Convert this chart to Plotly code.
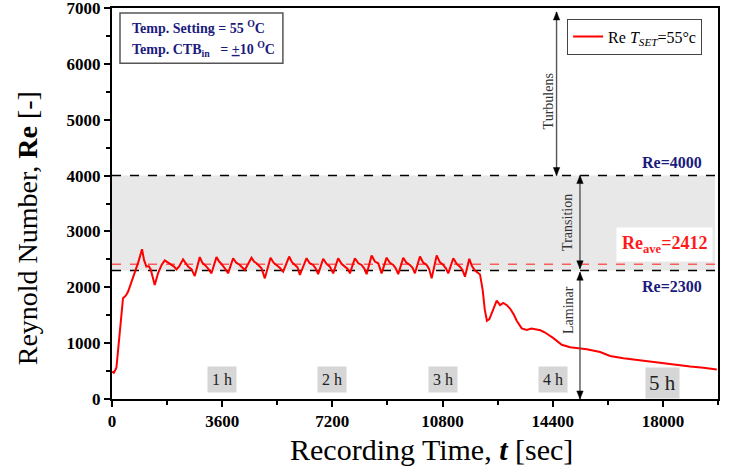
import plotly.graph_objects as go

# ---------------- data ----------------
time_s = [0, 60, 144, 250, 360, 450, 523, 640, 742, 860,
          981, 1050, 1125, 1200, 1265, 1330, 1396, 1504, 1620, 1723,
          1830, 1942, 2030, 2106, 2200, 2322, 2400, 2485, 2600, 2704,
          2868, 2950, 3031, 3150, 3250, 3414, 3500, 3577, 3700, 3793,
          3957, 4060, 4176, 4339, 4558, 4640, 4722, 4885, 4993, 5180,
          5280, 5376, 5480, 5592, 5788, 5880, 5974, 6060, 6138, 6357,
          6460, 6573, 6650, 6736, 6900, 7010, 7119, 7227, 7390, 7500,
          7609, 7700, 7773, 7936, 8050, 8155, 8240, 8319, 8482, 8590,
          8698, 8809, 8973, 9080, 9189, 9270, 9352, 9516, 9620, 9735,
          9820, 9898, 10062, 10170, 10281, 10360, 10444, 10608, 10710, 10824,
          10910, 10987, 11151, 11260, 11370, 11450, 11533, 11674, 11760, 11860,
          12024, 12112, 12180, 12250, 12330, 12406, 12490, 12570, 12678, 12786,
          12900, 13005, 13120, 13224, 13387, 13551, 13700, 13878, 14000, 14149,
          14421, 14695, 14967, 15240, 15513, 15948, 16275, 16710, 17256, 17802,
          18345, 18891, 19326, 19762]
re_vals = [490, 470, 560, 1200, 1805, 1850, 1920, 2100, 2250, 2450,
           2680, 2480, 2370, 2380, 2320, 2150, 2040, 2250, 2400, 2480,
           2440, 2400, 2370, 2320, 2380, 2500, 2430, 2370, 2320, 2200,
           2540, 2440, 2400, 2330, 2250, 2540, 2460, 2420, 2330, 2250,
           2520, 2440, 2400, 2310, 2530, 2460, 2430, 2340, 2160, 2530,
           2440, 2400, 2350, 2280, 2550, 2450, 2410, 2360, 2220, 2520,
           2430, 2400, 2340, 2235, 2510, 2420, 2370, 2250, 2520, 2420,
           2370, 2330, 2250, 2520, 2430, 2400, 2340, 2235, 2570, 2460,
           2430, 2250, 2530, 2440, 2400, 2340, 2235, 2530, 2440, 2400,
           2350, 2250, 2550, 2440, 2400, 2330, 2160, 2570, 2450, 2400,
           2340, 2250, 2520, 2420, 2370, 2310, 2190, 2510, 2380, 2300,
           2230, 1950, 1600, 1400, 1430, 1540, 1680, 1760, 1680, 1720,
           1680, 1620, 1520, 1400, 1265, 1235, 1260, 1250, 1230, 1190,
           1090, 970, 925, 910, 890, 840, 770, 730, 690, 650,
           610, 580, 560, 530]

re_turbulent = 4000
re_laminar = 2300
re_average = 2412
x_ticks = [0, 3600, 7200, 10800, 14400, 18000]
x_ticktext = ["0", "3600", "7200", "10800", "14400", "18000"]
y_ticks = [0, 1000, 2000, 3000, 4000, 5000, 6000, 7000]
y_ticktext = ["0", "1000", "2000", "3000", "4000", "5000", "6000", "7000"]
hour_pos = [3600, 7200, 10800, 14400, 18000]
hour_labels = ["1 h", "2 h", "3 h", "4 h", "5 h"]
series_name = "Re <i>T</i><sub><i>SET</i></sub>=55°c"

FONT = "Liberation Serif, Times New Roman, serif"
NAVY = "#1b1b7d"
X_MAX = 19800
Y_MAX = 7000

fig = go.Figure()
fig.add_trace(go.Scatter(x=time_s, y=re_vals, mode="lines", name=series_name,
                         line=dict(color="#ff0000", width=2), showlegend=True))

shapes = []
# transition band
shapes.append(dict(type="rect", xref="paper", yref="y", x0=0, x1=0.995,
                   y0=re_laminar, y1=re_turbulent, fillcolor="#e8e8e8",
                   line=dict(width=0), layer="below"))
for yv, col in [(re_turbulent, "black"), (re_laminar, "black"), (re_average, "#ff5a5a")]:
    shapes.append(dict(type="line", xref="paper", yref="y", x0=0, x1=1, y0=yv, y1=yv,
                       line=dict(color=col, width=1.5, dash="dash"), layer="below"))
# info box top-left
shapes.append(dict(type="rect", xref="paper", yref="paper", x0=0.0132, x1=0.282,
                   y0=0.859, y1=0.987, fillcolor="white",
                   line=dict(color="#555555", width=1.5), layer="above"))

# regime arrows (double headed): line + two triangular heads
HEAD_H = 8 * Y_MAX / 391.0    # 8 px tall head
HEAD_W = 3.2 * X_MAX / 606.0  # 3.2 px half width
arrows = [(14525, re_turbulent, 6930), (15290, 2330, re_turbulent), (15290, 0, 2270)]
for ax_x, y_lo, y_hi in arrows:
    shapes.append(dict(type="line", xref="x", yref="y", x0=ax_x, x1=ax_x, y0=y_lo, y1=y_hi,
                       line=dict(color="#555555", width=1.4)))
    for tip, d in [(y_lo, 1), (y_hi, -1)]:
        base = tip + d * HEAD_H
        shapes.append(dict(type="path", xref="x", yref="y",
                           path=f"M {ax_x - HEAD_W},{base} L {ax_x + HEAD_W},{base} L {ax_x},{tip} Z",
                           fillcolor="black", line=dict(color="black", width=0.5)))

ann = []
ann.append(dict(xref="paper", yref="paper", x=0.0297, y=0.952, xanchor="left", yanchor="middle",
                text="<b>Temp. Setting = 55 <sup>O</sup>C</b>", showarrow=False,
                font=dict(family=FONT, size=14, color=NAVY)))
ann.append(dict(xref="paper", yref="paper", x=0.0297, y=0.895, xanchor="left", yanchor="middle",
                text="<b>Temp. CTB<sub>in</sub>\u00a0\u00a0\u00a0= <u>+</u>10 <sup>O</sup>C</b>", showarrow=False,
                font=dict(family=FONT, size=14, color=NAVY)))

# right-side labels
ann.append(dict(x=19330, y=4229, xanchor="right", yanchor="middle", showarrow=False,
                text="<b>Re=4000</b>", font=dict(family=FONT, size=16, color=NAVY)))
ann.append(dict(x=19330, y=2007, xanchor="right", yanchor="middle", showarrow=False,
                text="<b>Re=2300</b>", font=dict(family=FONT, size=16, color=NAVY)))
ann.append(dict(x=18040, y=2760, xanchor="center", yanchor="middle", showarrow=False,
                text="<b>Re<sub>ave</sub>=2412</b>", bgcolor="white", borderpad=5,
                font=dict(family=FONT, size=18, color="#ff1a1a")))

for txt, xv, yv in [("Turbulens", 14250, 5330), ("Transition", 14885, 3163), ("Laminar", 14934, 1595)]:
    ann.append(dict(x=xv, y=yv, text=txt, textangle=-90, showarrow=False,
                    xanchor="center", yanchor="middle",
                    font=dict(family=FONT, size=14, color="#333333")))

# hour labels
for i, (hp, hl) in enumerate(zip(hour_pos, hour_labels)):
    big = i == len(hour_pos) - 1
    ann.append(dict(x=hp, y=287 if big else 358, text=hl, showarrow=False,
                    xanchor="center", yanchor="middle", bgcolor="#d6d6d6",
                    borderpad=3 if big else 4,
                    font=dict(family=FONT, size=21 if big else 16, color="#222222")))

# axis titles
ann.append(dict(xref="paper", yref="paper", x=-0.140, y=0.437, textangle=-90,
                xanchor="center", yanchor="middle", showarrow=False,
                text="Reynold Number, <b>Re</b> [-]",
                font=dict(family=FONT, size=28, color="black")))
ann.append(dict(xref="paper", yref="paper", x=0.527, y=-0.130,
                xanchor="center", yanchor="middle", showarrow=False,
                text="Recording Time, <b><i>t</i></b> [sec]",
                font=dict(family=FONT, size=30, color="black")))

tickfont = dict(family=FONT, size=17, color="black", weight="bold")

fig.update_layout(
    width=732, height=470,
    margin=dict(l=112, r=14, t=8, b=71, autoexpand=False),
    paper_bgcolor="white", plot_bgcolor="white",
    shapes=shapes, annotations=ann,
    showlegend=True,
    legend=dict(x=0.751, y=0.973, xanchor="left", yanchor="top",
                bgcolor="white", bordercolor="#444444", borderwidth=1,
                font=dict(family=FONT, size=16, color="black")),
    xaxis=dict(range=[0, X_MAX], tickvals=x_ticks, ticktext=x_ticktext, ticks="outside",
               ticklen=6, tickwidth=1.5, automargin=False, ticklabeloverflow="allow",
               tickcolor="black", showline=True, linewidth=2, linecolor="black", mirror=True,
               showgrid=False, zeroline=False, tickfont=tickfont,
               minor=dict(dtick=1800, tick0=0, ticks="outside", ticklen=4, tickwidth=1.5,
                          tickcolor="black", showgrid=False)),
    xaxis2=dict(range=[0, X_MAX], overlaying="x", side="top", tickvals=x_ticks,
                ticks="inside", ticklen=5, tickwidth=1.2, tickcolor="black", automargin=False,
                showticklabels=False, showgrid=False, zeroline=False, showline=False,
                minor=dict(dtick=1800, tick0=0, ticks="inside", ticklen=3, tickwidth=1.2,
                           tickcolor="black", showgrid=False)),
    yaxis=dict(range=[0, Y_MAX], tickvals=y_ticks, ticktext=y_ticktext, ticks="outside",
               ticklen=6, tickwidth=1.5, automargin=False, ticklabeloverflow="allow",
               tickcolor="black", showline=True, linewidth=2, linecolor="black", mirror=True,
               showgrid=False, zeroline=False, tickfont=tickfont,
               minor=dict(dtick=500, tick0=0, ticks="outside", ticklen=4, tickwidth=1.5,
                          tickcolor="black", showgrid=False)),
)

fig.write_html("out.html", config={"displayModeBar": False},
               post_script="document.body.style.margin='0';")
